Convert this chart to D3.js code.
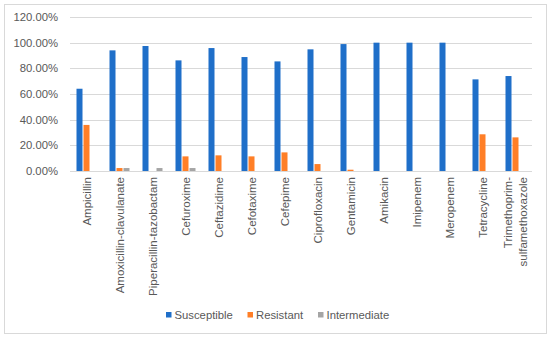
<!DOCTYPE html>
<html>
<head>
<meta charset="utf-8">
<script src="https://cdn.jsdelivr.net/npm/d3@7"></script>
<style>
  body { margin: 0; background: #fff; }
  text { font-family: "Liberation Sans", Arial, sans-serif; fill: #595959; }
</style>
</head>
<body>
<div id="chart"></div>
<script>
// --------------- Data ---------------
const categories = [
  "Ampicillin", "Amoxicillin-clavulanate", "Piperacillin-tazobactam",
  "Cefuroxime", "Ceftazidime", "Cefotaxime", "Cefepime", "Ciprofloxacin",
  "Gentamicin", "Amikacin", "Imipenem", "Meropenem", "Tetracycline",
  "Trimethoprim-sulfamethoxazole"
];
const seriesNames = ["Susceptible", "Resistant", "Intermediate"];
const susceptible = [64.1, 94.0, 97.4, 86.2, 95.8, 88.8, 85.4, 94.8, 98.9, 100, 100, 100, 71.4, 74.0];
const resistant = [35.9, 2.3, 0, 11.4, 12.2, 11.4, 14.5, 5.4, 1.0, 0, 0, 0, 28.6, 26.2];
const intermediate = [0, 2.3, 2.3, 2.3, 0, 0, 0, 0, 0, 0, 0, 0, 0, 0];
const yTicks = [0, 20, 40, 60, 80, 100, 120];
const colors = ["#1f6fc9", "#ff7f27", "#a5a5a5"];

// --------------- Constants ---------------
const WIDTH = 550, HEIGHT = 338;
const MARGINS = { top: 17, right: 18, bottom: 167, left: 70 };

const svg = d3.select("#chart").append("svg")
  .attr("width", WIDTH)
  .attr("height", HEIGHT);

// chart border
svg.append("rect")
  .attr("x", 4.5).attr("y", 4.5)
  .attr("width", 542).attr("height", 329)
  .attr("fill", "#fff")
  .attr("stroke", "#d9d9d9");

const x = d3.scaleBand()
  .domain(categories)
  .range([MARGINS.left, WIDTH - MARGINS.right]);

const y = d3.scaleLinear()
  .domain([0, 120])
  .range([HEIGHT - MARGINS.bottom, MARGINS.top]);

const xSub = d3.scaleBand()
  .domain(seriesNames)
  .range([6, x.bandwidth() - 6]);

// gridlines
svg.append("g")
  .selectAll("line")
  .data(yTicks)
  .join("line")
  .attr("x1", MARGINS.left)
  .attr("x2", WIDTH - MARGINS.right)
  .attr("y1", d => Math.round(y(d)) + 0.5)
  .attr("y2", d => Math.round(y(d)) + 0.5)
  .attr("stroke", "#d9d9d9");

// y tick labels
svg.append("g")
  .selectAll("text")
  .data(yTicks)
  .join("text")
  .attr("x", 58)
  .attr("y", d => y(d) + 4)
  .attr("text-anchor", "end")
  .attr("font-size", 11.3)
  .text(d => d.toFixed(2) + "%");

// bars
const seriesValues = [susceptible, resistant, intermediate];
const rows = categories.map((c, i) => ({
  cat: c,
  vals: seriesNames.map((s, j) => ({ s, j, v: seriesValues[j][i] }))
}));

const groups = svg.append("g")
  .selectAll("g")
  .data(rows)
  .join("g")
  .attr("transform", d => `translate(${x(d.cat)},0)`);

groups.selectAll("rect")
  .data(d => d.vals.filter(e => e.v > 0))
  .join("rect")
  .attr("x", d => xSub(d.s) + 0.5)
  .attr("width", xSub.bandwidth() - 1)
  .attr("y", d => y(d.v))
  .attr("height", d => y(0) - y(d.v))
  .attr("fill", d => colors[d.j]);

// category labels (rotated)
const labels = svg.append("g")
  .selectAll("text")
  .data(categories)
  .join("text")
  .attr("text-anchor", "end")
  .attr("font-size", 11.5)
  .attr("transform", d => `translate(${x(d) + x.bandwidth() / 2 + 4},${y(0) + 6}) rotate(-90)`);

labels.each(function (d) {
  const t = d3.select(this);
  if (d === "Trimethoprim-sulfamethoxazole") {
    t.append("tspan").attr("x", 0).attr("dy", "-0.68em").text("Trimethoprim-");
    t.append("tspan").attr("x", 0).attr("dy", "1.36em").text("sulfamethoxazole");
  } else {
    t.text(d);
  }
});

// legend
const legendX = [166, 247.5, 318];
const legend = svg.append("g")
  .selectAll("g")
  .data(seriesNames)
  .join("g")
  .attr("transform", (d, i) => `translate(${legendX[i]},312)`);

legend.append("rect")
  .attr("width", 5.5).attr("height", 5.5)
  .attr("fill", (d, i) => colors[i]);

legend.append("text")
  .attr("x", 8.5)
  .attr("y", 7)
  .attr("font-size", 11.3)
  .text(d => d);
</script>
</body>
</html>
